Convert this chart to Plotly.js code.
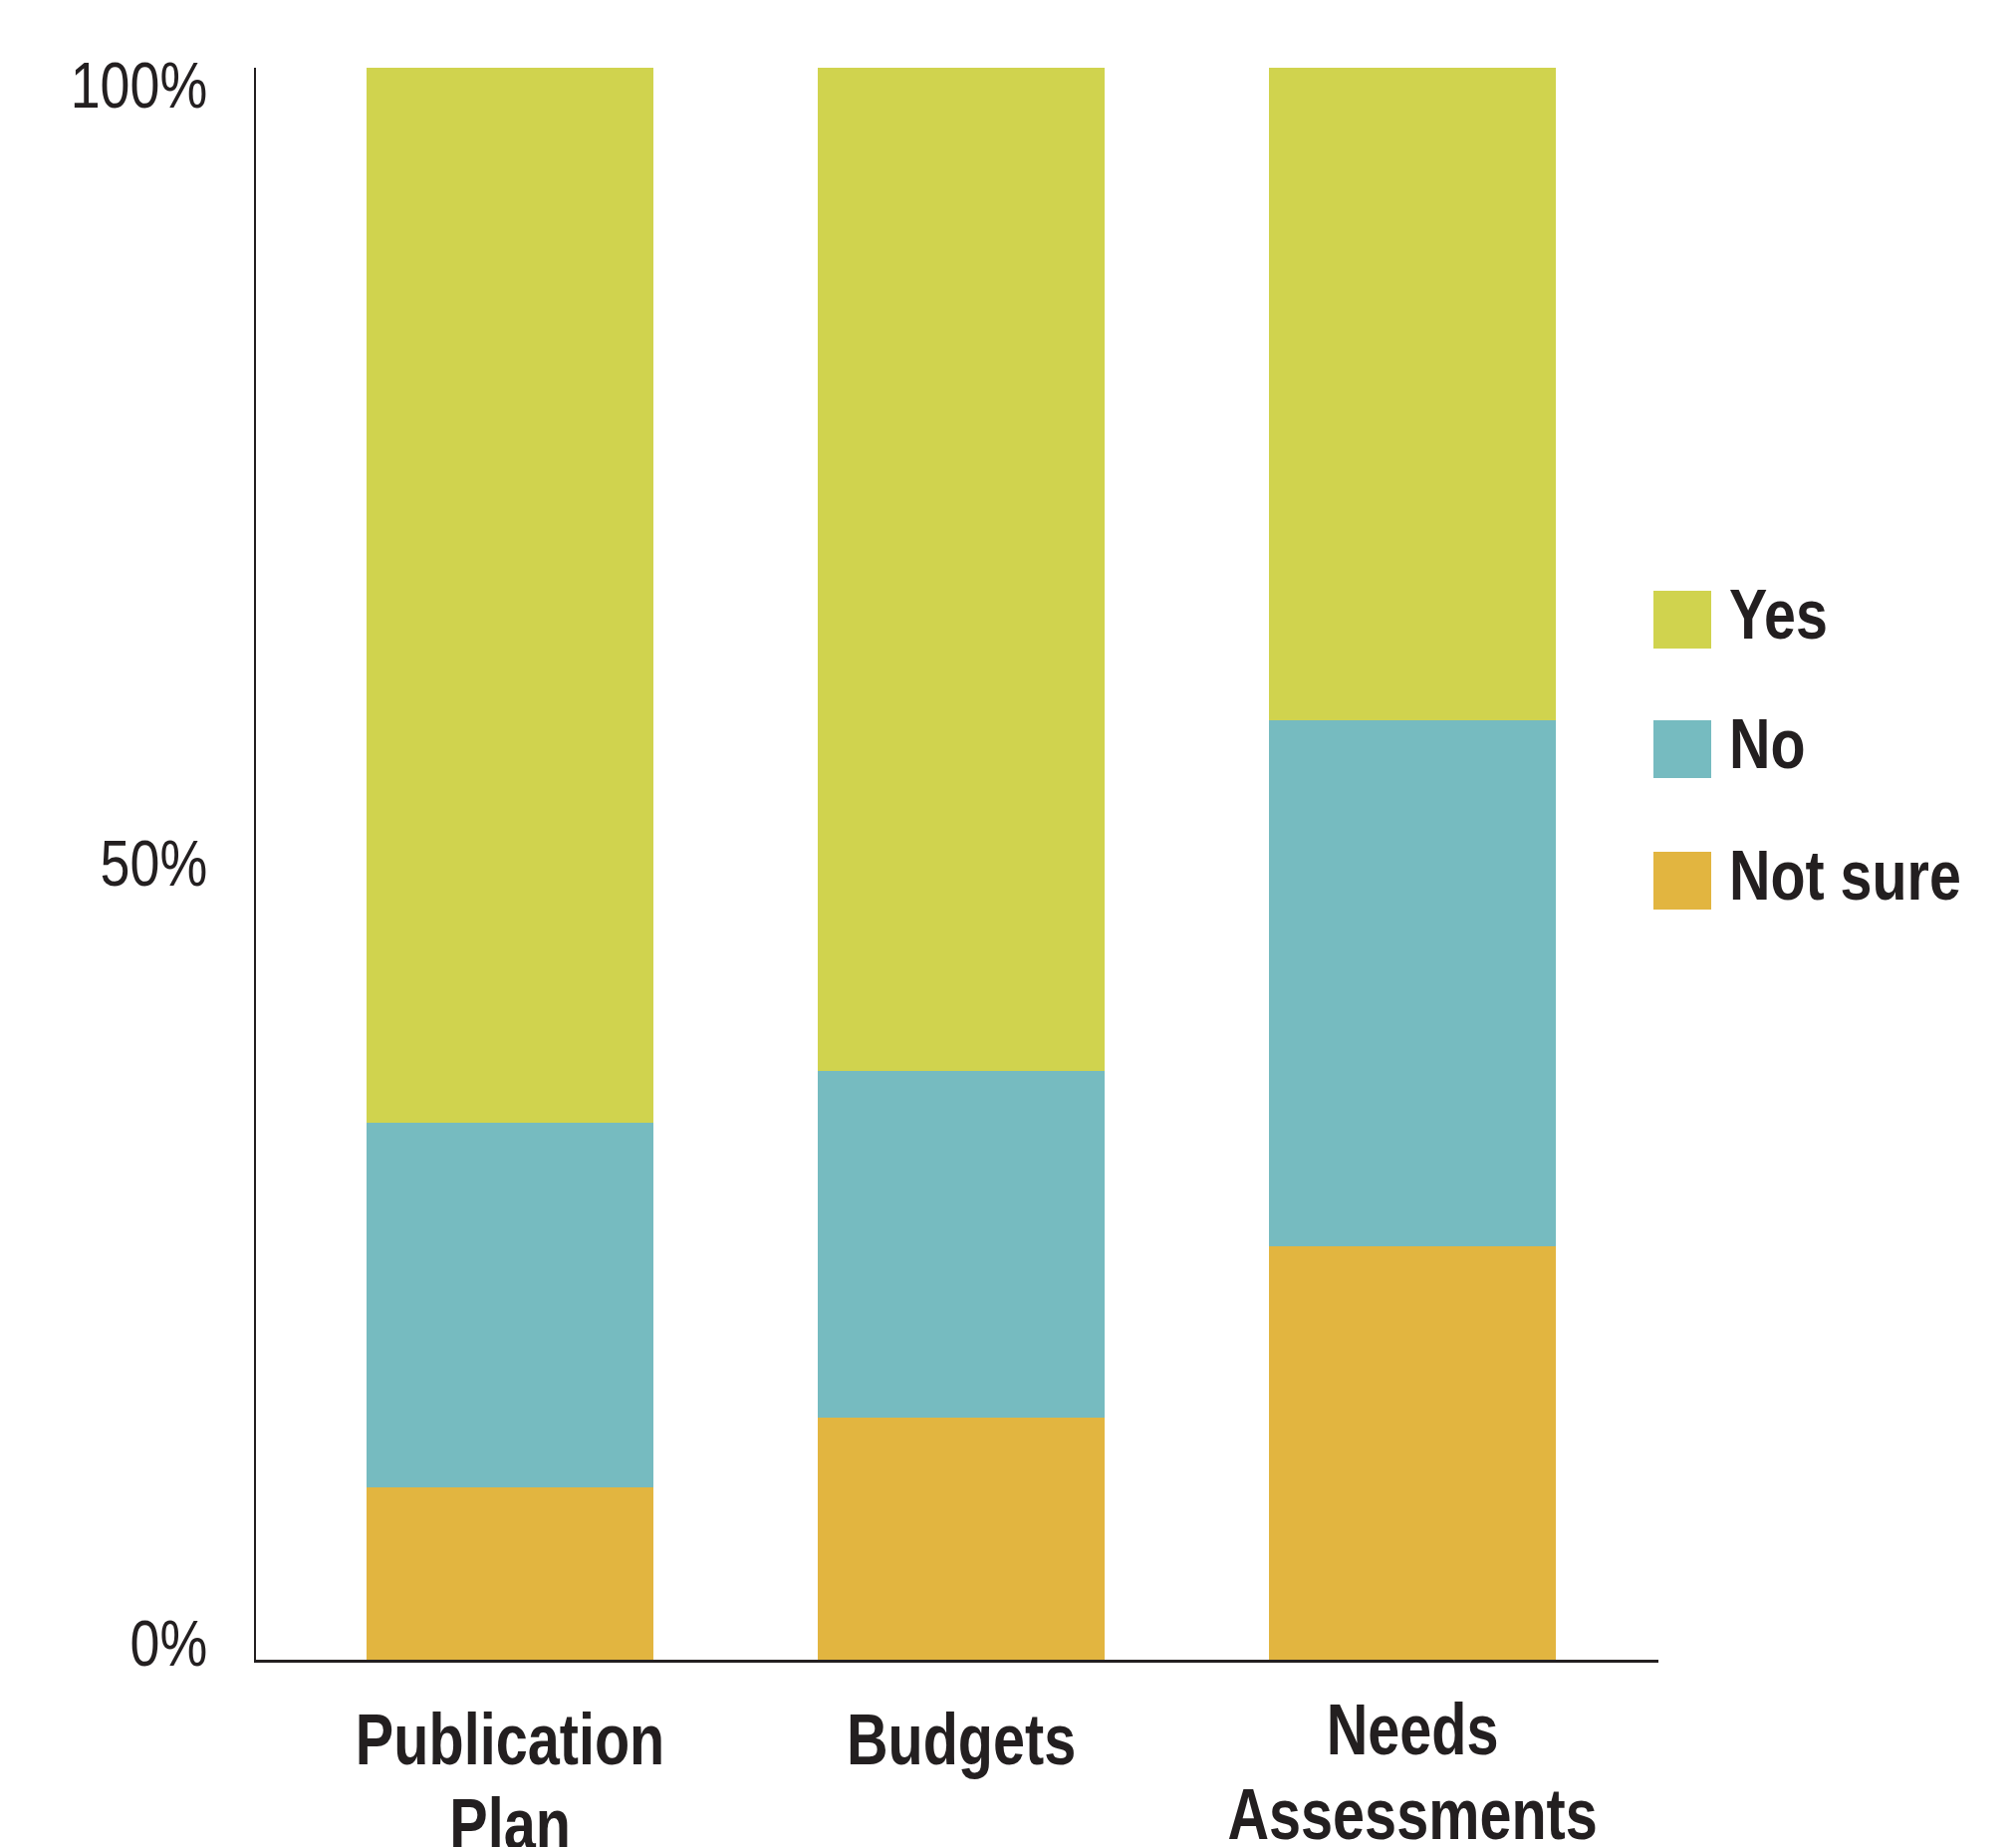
<!DOCTYPE html>
<html>
<head>
<meta charset="utf-8">
<script src="https://cdn.plot.ly/plotly-3.0.1.min.js"></script>
<style>
  html, body { margin: 0; padding: 0; background: #ffffff; }
  #chart { width: 2024px; height: 1854px; }
</style>
</head>
<body>
<div id="chart"></div>
<script>
// ---- data ----
const categories = ["Publication<br>Plan", "Budgets", "Needs<br>Assessments"];
const notSure = [10.8, 15.2, 26.0];
const no = [22.9, 21.8, 33.0];
const yes = [66.3, 63.0, 41.0];
const seriesNames = ["Yes", "No", "Not sure"];
const seriesColors = ["#D0D34E", "#76BBC0", "#E2B540"];
const yTickVals = [0, 50, 100];
const yTickText = ["0%", "50%", "100%"];

// ---- layout constants ----
const W = 2024, H = 1854;
const plotL = 257, plotR = 1665, plotT = 68, plotB = 1666;
const textColor = "#231F20";
const fontFamily = "'Liberation Sans', Arial, Helvetica, sans-serif";

const px2x = p => (p - plotL) / (plotR - plotL);
const px2y = p => (plotB - p) / (plotB - plotT);

const traces = [
  { type: "bar", name: seriesNames[2], x: [0, 1, 2], y: notSure, marker: { color: seriesColors[2] }, width: 0.636, hoverinfo: "name+y" },
  { type: "bar", name: seriesNames[1], x: [0, 1, 2], y: no, marker: { color: seriesColors[1] }, width: 0.636, hoverinfo: "name+y" },
  { type: "bar", name: seriesNames[0], x: [0, 1, 2], y: yes, marker: { color: seriesColors[0] }, width: 0.636, hoverinfo: "name+y" }
];

// custom legend (large swatches)
const legendTops = [593, 723, 855];
const swatchL = 1660, swatchSize = 58, legendTextX = 1735;
const shapes = [];
const annotations = [];
seriesNames.forEach((nm, i) => {
  shapes.push({
    type: "rect", xref: "paper", yref: "paper",
    x0: px2x(swatchL), x1: px2x(swatchL + swatchSize),
    y0: px2y(legendTops[i] + swatchSize), y1: px2y(legendTops[i]),
    fillcolor: seriesColors[i], line: { width: 0 }
  });
  annotations.push({
    xref: "paper", yref: "paper",
    x: px2x(legendTextX), y: px2y(legendTops[i] + swatchSize / 2 - 5),
    xanchor: "left", yanchor: "middle", align: "left", showarrow: false,
    borderpad: 0,
    text: nm,
    font: { family: fontFamily, size: 70, color: textColor, weight: "bold" }
  });
});

const layout = {
  width: W, height: H,
  margin: { l: plotL, r: W - plotR, t: plotT, b: H - plotB, pad: 0 },
  paper_bgcolor: "#ffffff",
  plot_bgcolor: "#ffffff",
  barmode: "stack",
  showlegend: false,
  font: { family: fontFamily, color: textColor },
  xaxis: {
    range: [-0.563, 2.545],
    tickmode: "array",
    tickvals: [0, 1, 2],
    ticktext: categories,
    showgrid: false, zeroline: false,
    showline: true, linecolor: textColor, linewidth: 3,
    ticks: "",
    ticklabelstandoff: 16,
    tickfont: { family: fontFamily, size: 72, color: textColor, weight: "bold" },
    fixedrange: true
  },
  yaxis: {
    range: [0, 100],
    tickmode: "array",
    tickvals: yTickVals,
    ticktext: yTickText,
    showgrid: false, zeroline: false,
    showline: true, linecolor: textColor, linewidth: 2,
    ticks: "",
    ticklabelstandoff: 34,
    tickfont: { family: fontFamily, size: 64, color: textColor },
    fixedrange: true
  },
  shapes: shapes,
  annotations: annotations
};

// condense text horizontally to mimic the narrow typeface of the original
function condense(selector, scale, lineDy) {
  document.querySelectorAll(selector).forEach(t => {
    const lines = Array.from(t.querySelectorAll("tspan.line"));
    const targets = lines.length ? lines : [t];
    targets.forEach(el => {
      const len = el.getComputedTextLength();
      if (len > 0) {
        el.setAttribute("textLength", (len * scale).toFixed(2));
        el.setAttribute("lengthAdjust", "spacingAndGlyphs");
      }
    });
    if (lineDy && lines.length > 1) {
      for (let i = 1; i < lines.length; i++) lines[i].setAttribute("dy", lineDy);
    }
  });
}

// small vertical nudges of individual labels, as set in the original artwork
function nudge(selector, offsets) {
  document.querySelectorAll(selector).forEach((t, i) => {
    const dy = offsets[i] || 0;
    if (dy) t.setAttribute("transform", (t.getAttribute("transform") || "") + " translate(0," + dy + ")");
  });
}

Plotly.newPlot("chart", traces, layout, { displayModeBar: false, staticPlot: true }).then(() => {
  condense(".xtick text", 0.80, "1.18em");
  condense(".ytick text", 0.84);
  condense(".annotation-text", 0.82);
  nudge(".xtick text", [0, 0, -10]);
  // y ticks in order 0%, 50%, 100%
  nudge(".ytick text", [-16, 0, 18]);
});
</script>
</body>
</html>
